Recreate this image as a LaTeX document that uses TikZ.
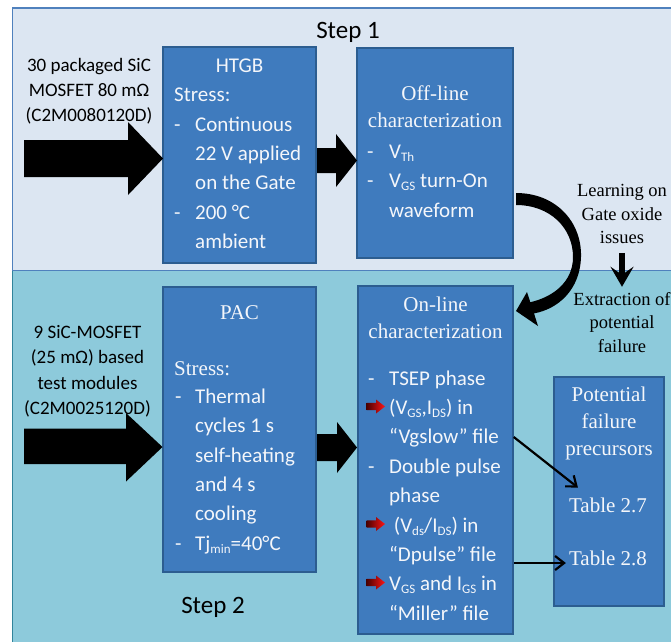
\documentclass[tikz,border=0pt]{standalone}
\usepackage{fontspec}
\setmainfont{Liberation Serif}
\newfontfamily\carl{Carlito}
\usetikzlibrary{arrows.meta}
\definecolor{panelA}{HTML}{DCE6F2}
\definecolor{panelAb}{HTML}{4F81BD}
\definecolor{panelB}{HTML}{8DCADB}
\definecolor{panelBb}{HTML}{31849B}
\definecolor{boxfill}{HTML}{3F7BBE}
\definecolor{boxline}{HTML}{2C5D90}
\definecolor{boxtxt}{HTML}{F4F6FA}
\definecolor{darkred}{HTML}{4A0000}
\definecolor{brightred}{HTML}{FF1515}
\newcommand\sansB{\carl\fontsize{21}{29.4}\selectfont}
\newcommand\sansL{\carl\fontsize{19}{25.4}\selectfont}
\newcommand\sansS{\carl\fontsize{25}{30}\selectfont}
\newcommand\serB{\fontsize{21}{27}\selectfont}
\newcommand\serL{\fontsize{18.5}{23.6}\selectfont}
\newcommand\lo[1]{\raisebox{-3pt}{\fontsize{13}{13}\selectfont #1}}
\newcommand\leftlines[1]{\vtop{\halign{##\hfil\cr#1\crcr}}}
\newcommand\midlines[1]{\vtop{\halign{\hfil##\hfil\cr#1\crcr}}}
\newcommand\dsh[1]{\makebox[#1][l]{-}}
\newcommand\ind[1]{\hspace*{#1}}
\newcommand\redarr[1]{%
  \shade[left color=darkred, right color=brightred]
    (366.5,#1-3.6) -- (376,#1-3.6) -- (376,#1-7) -- (385,#1) -- (376,#1+7) -- (376,#1+3.6) -- (366.5,#1+3.6) -- cycle;}
\tikzset{
  box/.style={draw=boxline, fill=boxfill, line width=1.5pt, inner sep=0pt},
  btxt/.style={anchor=base west, inner sep=0pt, text=boxtxt},
  ttxt/.style={anchor=base, inner sep=0pt, text=boxtxt},
  ktxt/.style={anchor=base, inner sep=0pt, text=black},
  thinarrow/.style={line width=2.2pt, -{Straight Barb[length=9pt,width=14pt,line width=2.2pt]}},
  downarrow/.style={line width=5.5pt, -{Stealth[length=20pt,width=23pt,inset=8pt]}}
}
\begin{document}
\begin{tikzpicture}[x=1pt,y=-1pt]
\useasboundingbox (0,0) rectangle (671,641);
\fill[white] (0,0) rectangle (671,641);
% panels
\fill[panelB] (12.5,270.5) rectangle (690,660);
\draw[panelBb, line width=1.5pt] (12.5,270.5) -- (12.5,660);
\filldraw[fill=panelA, draw=panelAb, line width=1.5pt] (12.5,8) rectangle (690,270.5);

% boxes
\node[box, minimum width=153, minimum height=216] (htgb) at (239.5,155) {};
\node[box, minimum width=156, minimum height=210] (offline) at (435,153) {};
\node[box, minimum width=153, minimum height=285] (pac) at (239.5,429.5) {};
\node[box, minimum width=155, minimum height=348] (online) at (435.5,460) {};
\node[box, minimum width=110, minimum height=229] (pot) at (609,491.5) {};

% step labels
\node[ktxt, font=\sansS] (step1) at (348,38.3) {Step 1};
\node[ktxt, font=\sansS] (step2) at (213,613.3) {Step 2};

% left texts
\node[ktxt, font=\sansL] (in1) at (89,71) {\midlines{30 packaged SiC\cr MOSFET 80 mΩ\cr (C2M0080120D)}};
\node[ktxt, font=\sansL] (in2) at (87.5,338.3) {\midlines{9 SiC-MOSFET\cr (25 mΩ) based\cr test modules\cr (C2M0025120D)}};

% block arrows
\fill[black] (24,140) -- (128,140) -- (128,122) -- (163,158.5) -- (128,195) -- (128,177) -- (24,177) -- cycle;
\fill[black] (317,148) -- (336,148) -- (336,134) -- (357,160.5) -- (336,187) -- (336,173) -- (317,173) -- cycle;
\fill[black] (24,428.5) -- (126,428.5) -- (126,413) -- (162.5,447) -- (126,481.5) -- (126,464) -- (24,464) -- cycle;
\fill[black] (317,434) -- (337,434) -- (337,422) -- (357,447.5) -- (337,473) -- (337,461) -- (317,461) -- cycle;

% HTGB text
\node[ttxt, font=\sansB] (htgbT) at (239.5,72.7) {HTGB};
\node[btxt, font=\sansB] (htgbB) at (174,101.7) {\leftlines{Stress:\cr
 \dsh{21pt}Continuous\cr
 \ind{21pt}22 V applied\cr
 \ind{21pt}on the Gate\cr
 \dsh{21pt}200 °C\cr
 \ind{21pt}ambient}};

% Off-line text
\node[ttxt, font=\serB] (offT) at (435,100) {\midlines{Off-line\cr characterization}};
\node[btxt, font=\sansB] (offB) at (367,158.3) {\leftlines{\dsh{22pt}V\lo{Th}\cr
 \dsh{22pt}V\lo{GS} turn-On\cr
 \ind{22pt}waveform}};

% PAC text
\node[ttxt, font=\serB] (pacT) at (239.5,319.3) {PAC};
\node[btxt, font=\serB] (pacS) at (174,375) {Stress:};
\node[btxt, font=\sansB] (pacB) at (175,403.3) {\leftlines{\dsh{20pt}Thermal\cr
 \ind{20pt}cycles 1 s\cr
 \ind{20pt}self-heating\cr
 \ind{20pt}and 4 s\cr
 \ind{20pt}cooling\cr
 \dsh{20pt}Tj\lo{min}=40°C}};

% On-line text
\node[ttxt, font=\serB] (onT) at (435.5,311) {\midlines{On-line\cr characterization}};
\node[btxt, font=\sansB] (onB) at (368,385) {\leftlines{\dsh{21pt}TSEP phase\cr
 \ind{21pt}(V\lo{GS},I\lo{DS}) in\cr
 \ind{21pt}“Vgslow” file\cr
 \dsh{21pt}Double pulse\cr
 \ind{21pt}phase\cr
 \ind{21pt} (V\lo{ds}/I\lo{DS}) in\cr
 \ind{21pt}“Dpulse” file\cr
 \ind{21pt}V\lo{GS} and I\lo{GS} in\cr
 \ind{21pt}“Miller” file}};
\redarr{406.5}
\redarr{524}
\redarr{582.5}

% Potential box text
\node[ttxt, font=\serB] (potT) at (609,401.7) {\midlines{Potential\cr failure\cr precursors}};
\node[ttxt, font=\serB] (t27) at (608,512.3) {Table 2.7};
\node[ttxt, font=\serB] (t28) at (608,565.7) {Table 2.8};

% side texts
\node[ktxt, font=\serL] (learn) at (622,196.7) {\midlines{Learning on\cr Gate oxide\cr issues}};
\node[ktxt, font=\serL] (extract) at (622,305) {\midlines{Extraction of\cr potential\cr failure}};
\draw[downarrow] ([yshift=-8.5pt]learn.south) -- ([yshift=5pt]extract.north);

% curved arrow from off-line to on-line
\fill[black] (516,193) .. controls (556,193) and (582,222) .. (581,257)
  .. controls (580,290) and (558,309) .. (534,313.4)
  -- (538,326) -- (516,311) -- (527,292) -- (530.3,302.2)
  .. controls (553,297) and (573,282) .. (573,257)
  .. controls (573,228) and (550,205) .. (516,205) -- cycle;

% thin arrows
\draw[thinarrow] (online.east |- 0,437) -- ([shift={(9pt,10pt)}]t27.north west);
\draw[thinarrow, shorten >=3pt] (online.east |- 0,563) -- (t28.west |- 0,563);
\end{tikzpicture}
\end{document}
